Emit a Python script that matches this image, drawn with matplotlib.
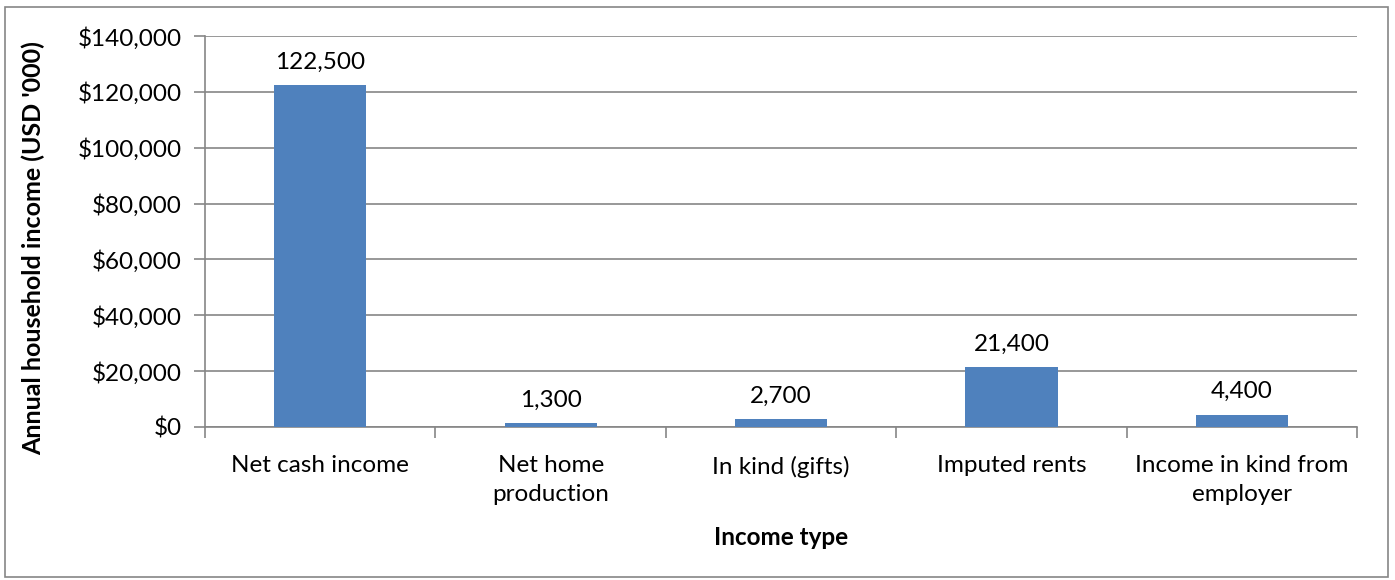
import numpy as np
import matplotlib.pyplot as plt
from matplotlib.patches import Rectangle
from matplotlib.ticker import FuncFormatter

# Income components
categories = ["Net cash income", "Net home\nproduction", "In kind (gifts)",
              "Imputed rents", "Income in kind from\nemployer"]
values = [122500, 1300, 2700, 21400, 4400]
y_ticks = [0, 20000, 40000, 60000, 80000, 100000, 120000, 140000]

plt.rcParams['font.family'] = ['Lato', 'DejaVu Sans']
FS = 17.5

fig = plt.figure(figsize=(13.95, 5.80), dpi=100)
ax = fig.add_axes([0.147, 0.2638, 0.8258, 0.6741])

x = np.arange(len(categories))
ax.bar(x, values, width=0.4, color='#4F81BD', zorder=3)

# Value labels on top of each bar
for xi, v in zip(x, values):
    ax.annotate(f"{v:,}", (xi, v), xytext=(0, 9), textcoords='offset points',
                ha='center', va='bottom', fontsize=FS, color='black')

ax.set_xlim(-0.5, len(categories) - 0.5)
ax.set_ylim(0, 140000)
ax.set_yticks(y_ticks)
ax.yaxis.set_major_formatter(FuncFormatter(lambda v, p: f"${v:,.0f}"))
ax.grid(axis='y', color='#868686', linewidth=1.2, zorder=0)

# Category labels centred under bars, tick marks at category boundaries
ax.set_xticks(x)
ax.set_xticklabels(categories, fontsize=FS, linespacing=1.45)
ax.tick_params(axis='x', length=0, pad=20.5)
ax.set_xticks(np.arange(-0.5, len(categories)), minor=True)
ax.tick_params(axis='x', which='minor', length=8, width=1.2, color='#868686')
ax.tick_params(axis='y', length=8, width=1.2, color='#868686', labelsize=FS, pad=9)

for side in ['top', 'right']:
    ax.spines[side].set_visible(False)
for side in ['left', 'bottom']:
    ax.spines[side].set_color('#868686')
    ax.spines[side].set_linewidth(1.2)

ax.set_ylabel("Annual household income (USD '000)", fontsize=18,
              fontweight='bold', labelpad=23)
ax.yaxis.label.set_y(0.458)
ax.set_xlabel("Income type", fontsize=FS, fontweight='bold', labelpad=15)

# Chart frame
fig.patches.append(Rectangle((0.0036, 0.005), 0.9914, 0.983, transform=fig.transFigure,
                             fill=False, edgecolor='#868686', linewidth=1.2))

fig.savefig('out.png', dpi=100)
